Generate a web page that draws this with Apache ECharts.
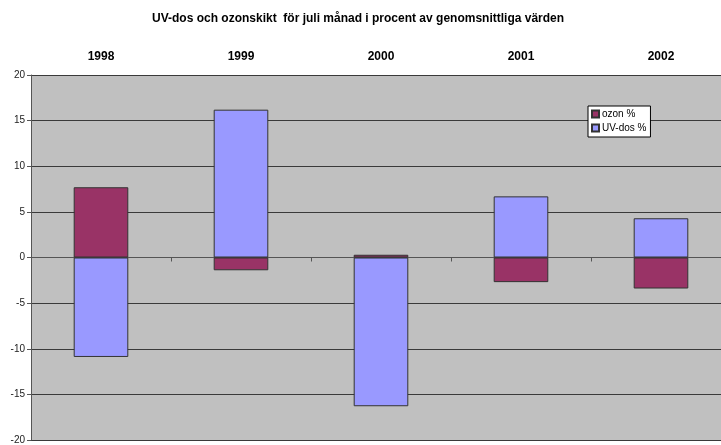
<!DOCTYPE html>
<html>
<head>
<meta charset="utf-8">
<script src="https://cdn.jsdelivr.net/npm/echarts@6/dist/echarts.min.js"></script>
<style>
  html, body { margin: 0; padding: 0; background: #fff; overflow: hidden; }
  #chart { width: 731px; height: 445px; }
</style>
</head>
<body>
<div id="chart"></div>
<script>
// Years shown along the top
const years = ['1998', '1999', '2000', '2001', '2002'];
// July deviation from average, percent
const ozonPct = [7.7, -1.4, 0.3, -2.7, -3.4];
const uvDosPct = [-10.9, 16.2, -16.3, 6.7, 4.3];
// Value axis range and step
const yMin = -20, yMax = 20, yStep = 5;

const FONT = '"Liberation Sans", Arial, sans-serif';
const chart = echarts.init(document.getElementById('chart'), null, { renderer: 'canvas' });

chart.setOption({
  backgroundColor: '#ffffff',
  animation: false,
  textStyle: { fontFamily: FONT },
  title: {
    text: 'UV-dos och ozonskikt  för juli månad i procent av genomsnittliga värden',
    left: 147,
    top: 8,
    textStyle: { fontFamily: FONT, fontSize: 12, fontWeight: 'bold', color: '#000' }
  },
  legend: {
    orient: 'vertical',
    left: 588,
    top: 106,
    data: ['ozon %', 'UV-dos %'],
    backgroundColor: '#ffffff',
    borderColor: '#000000',
    borderWidth: 1,
    borderRadius: 0,
    padding: [3, 4, 4, 3],
    itemWidth: 7,
    itemHeight: 7,
    itemGap: 4,
    icon: 'rect',
    textStyle: { fontFamily: FONT, fontSize: 10, color: '#000', padding: [0, 0, 0, -2] }
  },
  grid: {
    left: 31,
    right: 0,
    top: 75,
    bottom: 4,
    show: true,
    backgroundColor: '#c0c0c0',
    borderWidth: 0
  },
  xAxis: [
    {
      type: 'category',
      data: years,
      position: 'top',
      boundaryGap: true,
      axisLine: { show: false, onZero: false },
      axisTick: { show: false },
      axisLabel: { fontFamily: FONT, fontSize: 12, fontWeight: 'bold', color: '#000', margin: 12 }
    },
    {
      type: 'category',
      data: years,
      position: 'bottom',
      boundaryGap: true,
      axisLine: { show: true, onZero: true, lineStyle: { color: '#555555', width: 1 } },
      axisTick: { show: true, length: 4, lineStyle: { color: '#555555' } },
      axisLabel: { show: false }
    }
  ],
  yAxis: {
    type: 'value',
    min: yMin,
    max: yMax,
    interval: yStep,
    axisLine: { show: true, lineStyle: { color: '#555555', width: 1 } },
    axisTick: { show: true, length: 4, lineStyle: { color: '#555555' } },
    axisLabel: { fontFamily: FONT, fontSize: 10, color: '#222', margin: 6 },
    splitLine: { show: true, lineStyle: { color: '#3a3a3a', width: 1 } }
  },
  series: [
    {
      name: 'ozon %',
      type: 'bar',
      stack: 'avvikelse',
      xAxisIndex: 1,
      data: ozonPct,
      barWidth: '39%',
      itemStyle: { color: '#993366', borderColor: '#333333', borderWidth: 1 }
    },
    {
      name: 'UV-dos %',
      type: 'bar',
      stack: 'avvikelse',
      xAxisIndex: 1,
      data: uvDosPct,
      barWidth: '39%',
      itemStyle: { color: '#9999ff', borderColor: '#333333', borderWidth: 1 }
    }
  ]
});
</script>
</body>
</html>
